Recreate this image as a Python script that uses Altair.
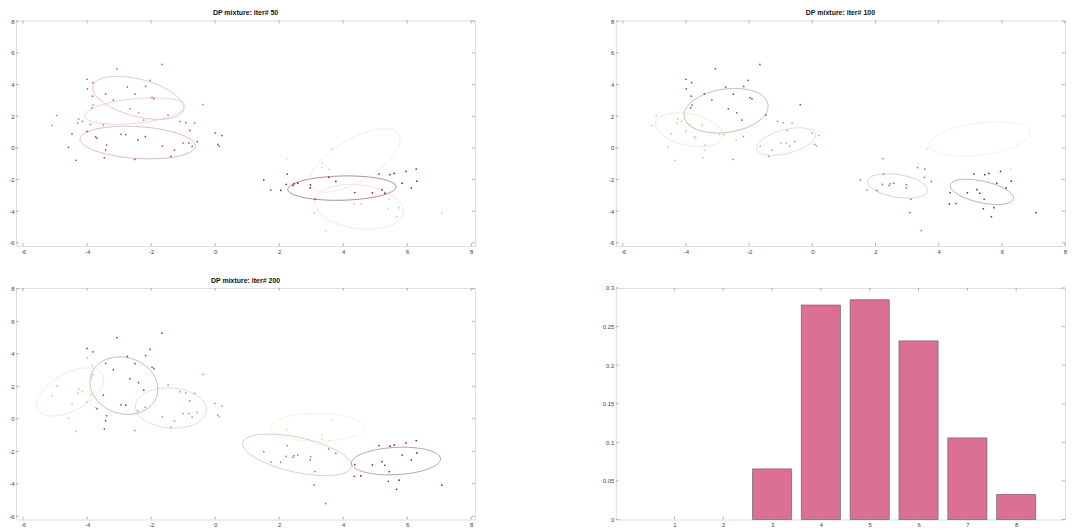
import numpy as np
import pandas as pd
import altair as alt

# ---------------- data ----------------
PX = [-1.66, -3.07, -4.0, -2.03, -3.82, -2.74, -2.17, -3.99, -3.42, -2.5, -3.83, -1.97, -1.91, -3.18,
      -3.81, -0.38, -3.85, -2.66, -2.39, -1.47, -4.94, -4.26, -2.23, -4.14, -1.1, -4.29, -0.92, -0.64,
      -5.09, -3.89, -3.49, -0.79, -4.0, 0.0, -4.47, -2.94, -2.79, 0.21, -2.18, -3.73, -3.69, -2.41,
      -0.56, -1.0, -0.82, 0.08, -3.39, 0.13, -1.65, -0.72, -4.58, -3.42, -1.27, -1.38, -3.46, -2.51, -4.35,
      2.23, 3.35, 3.33, 3.56, 5.96, 6.28, 2.25, 5.12, 5.46, 5.59, 3.55, 1.52, 6.30, 3.77, 2.22, 2.47,
      2.43, 2.58, 2.98, 5.84, 2.97, 6.13, 1.74, 2.05, 5.21, 4.36, 4.91, 5.30, 5.44, 3.12, 4.34, 4.55,
      5.41, 5.75, 7.08, 3.09, 5.67, 3.45, 3.65]
PY = [5.27, 5.0, 4.33, 4.27, 4.12, 3.84, 3.88, 3.73, 3.41, 3.39, 3.27, 3.18, 3.1, 3.02,
      2.71, 2.73, 2.53, 2.47, 2.22, 2.08, 2.04, 1.82, 1.76, 1.67, 1.67, 1.57, 1.59, 1.57,
      1.43, 1.49, 1.45, 1.1, 1.04, 0.94, 0.88, 0.86, 0.84, 0.78, 0.71, 0.69, 0.61, 0.49,
      0.39, 0.31, 0.31, 0.22, 0.18, 0.12, 0.12, 0.1, 0.04, -0.12, -0.14, -0.53, -0.63, -0.73, -0.78,
      -0.67, -0.97, -1.24, -1.34, -1.49, -1.34, -1.65, -1.65, -1.69, -1.61, -1.86, -2.02, -2.1, -2.12, -2.31, -2.27,
      -2.37, -2.23, -2.33, -2.23, -2.53, -2.53, -2.66, -2.68, -2.64, -2.82, -2.84, -2.86, -3.25, -3.25, -3.54, -3.52,
      -3.85, -3.78, -4.09, -4.09, -4.34, -5.22, -0.05]

# Gaussian components (centre, half x-extent, half y-extent, correlation)
E50_CX = [-2.4, -2.5, -2.42, 3.96, 4.36, 4.5]
E50_CY = [3.16, 2.33, 0.34, -2.54, -0.8, -3.72]
E50_SX = [1.42, 1.57, 1.8, 1.69, 1.42, 1.39]
E50_SY = [1.36, 0.84, 1.03, 0.77, 2.0, 1.42]
E50_RHO = [-0.46, 0.36, -0.21, 0.1, 0.66, -0.2]
E50_LINE = ['#d8b0b0', '#e2c6bc', '#cda2a4', '#96566a', '#ece8c8', '#ece0c6']
E50_PT = ['#b85a6a', '#c47c74', '#a44456', '#7a2a3a', '#dcd098', '#dec898']

E100_CX = [-2.73, -3.9, -0.83, 2.7, 5.37, 5.3]
E100_CY = [2.35, 1.15, 0.4, -2.4, -2.78, 0.57]
E100_SX = [1.33, 1.07, 0.94, 0.95, 1.0, 1.59]
E100_SY = [1.41, 1.07, 0.87, 0.77, 0.8, 1.08]
E100_RHO = [0.2, -0.33, 0.46, -0.34, -0.49, 0.33]
E100_LINE = ['#c094a2', '#ecdfc6', '#e2c8c0', '#deb6b6', '#b08492', '#efedcc']
E100_PT = ['#94405e', '#dcc088', '#c49484', '#bc6c7c', '#7a2a40', '#e2dc9c']

E200_CX = [-2.85, -4.53, -1.38, 3.19, 2.56, 5.65]
E200_CY = [2.04, 1.65, 0.66, -0.53, -2.22, -2.6]
E200_SX = [1.06, 1.05, 1.11, 1.46, 1.7, 1.39]
E200_SY = [1.77, 1.48, 1.24, 0.86, 1.28, 0.85]
E200_RHO = [-0.12, 0.53, -0.08, 0.0, -0.52, 0.15]
E200_LINE = ['#c094a2', '#ecdfc6', '#e2c8c0', '#efedcc', '#dab2b2', '#a87484']
E200_PT = ['#94405e', '#dcc088', '#c49484', '#e2dc9c', '#bc6c7c', '#7a2a40']

TITLES = ['DP mixture: iter# 50', 'DP mixture: iter# 100', 'DP mixture: iter# 200']

BAR_K = [1, 2, 3, 4, 5, 6, 7, 8]
BAR_P = [0.0, 0.0, 0.0656, 0.2778, 0.2847, 0.2314, 0.1057, 0.0324]

XTICKS = [-6, -4, -2, 0, 2, 4, 6, 8]
YTICKS = [-6, -4, -2, 0, 2, 4, 6, 8]
BAR_XTICKS = [1, 2, 3, 4, 5, 6, 7, 8]
BAR_YTICKS = [0, 0.05, 0.1, 0.15, 0.2, 0.25, 0.3]

# ---------------- styling ----------------
FONT = 'Liberation Sans'
BOX = '#a0a0a0'
LABEL = '#444444'
W_L, W_R = 460, 450
H_T, H_B = 226, 232


def axis(values, expr="'' + datum.value"):
    return alt.Axis(values=values, ticks=False, domain=False, grid=False, labelFontSize=6,
                    labelColor=LABEL, labelPadding=2, title=None, labelFont=FONT,
                    labelFlush=False, labelOverlap=False, labelExpr=expr)


def tick_layers(xs, ys, xa, ya, xt, yt, w, h):
    xd = pd.DataFrame({'v': xt})
    yd = pd.DataFrame({'v': yt})
    out = []
    for a, b in [(h, h - 3), (0, 3)]:
        out.append(alt.Chart(xd).mark_rule(color=BOX, strokeWidth=0.8).encode(
            x=alt.X('v:Q', scale=xs, axis=xa), y=alt.value(a), y2=alt.value(b)))
    for a, b in [(0, 3), (w, w - 3)]:
        out.append(alt.Chart(yd).mark_rule(color=BOX, strokeWidth=0.8).encode(
            y=alt.Y('v:Q', scale=ys, axis=ya), x=alt.value(a), x2=alt.value(b)))
    return out


def scatter_panel(title, cx, cy, sx, sy, rho, line_cols, pt_cols, w, h, xdom):
    X = np.array(PX)
    Y = np.array(PY)
    d = []
    for i in range(len(cx)):
        dx = (X - cx[i]) / sx[i]
        dy = (Y - cy[i]) / sy[i]
        r = rho[i]
        d.append((dx ** 2 - 2 * r * dx * dy + dy ** 2) / (1 - r ** 2)
                 + 2 * np.log(sx[i] * sy[i] * np.sqrt(1 - r ** 2)))
    lab = np.argmin(np.array(d), axis=0)
    pts = pd.DataFrame({'x': X, 'y': Y, 'col': [pt_cols[k] for k in lab]})

    t = np.linspace(0, 2 * np.pi, 90)
    rows = []
    for i in range(len(cx)):
        ex = cx[i] + sx[i] * np.cos(t)
        ey = cy[i] + sy[i] * (rho[i] * np.cos(t) + np.sqrt(1 - rho[i] ** 2) * np.sin(t))
        for j in range(len(t)):
            rows.append({'x': ex[j], 'y': ey[j], 'eid': i, 'o': j, 'col': line_cols[i]})
    ell = pd.DataFrame(rows)

    xs = alt.Scale(domain=xdom, nice=False, zero=False)
    ys = alt.Scale(domain=[-6.2, 8.05], nice=False, zero=False)
    xa = axis(XTICKS)
    ya = axis(YTICKS)

    e = alt.Chart(ell).mark_line(strokeWidth=0.7).encode(
        x=alt.X('x:Q', scale=xs, axis=xa),
        y=alt.Y('y:Q', scale=ys, axis=ya),
        detail='eid:N', order='o:Q',
        color=alt.Color('col:N', scale=None))
    p = alt.Chart(pts).mark_circle(size=3, opacity=1).encode(
        x=alt.X('x:Q', scale=xs, axis=xa),
        y=alt.Y('y:Q', scale=ys, axis=ya),
        color=alt.Color('col:N', scale=None))
    return alt.layer(e, p, *tick_layers(xs, ys, xa, ya, XTICKS, YTICKS, w, h)).properties(
        width=w, height=h,
        title=alt.TitleParams(title, fontSize=7, font=FONT, fontWeight='bold', color='#111111', offset=2))


p1 = scatter_panel(TITLES[0], E50_CX, E50_CY, E50_SX, E50_SY, E50_RHO, E50_LINE, E50_PT,
                   W_L, H_T, [-6.22, 8.12])
p2 = scatter_panel(TITLES[1], E100_CX, E100_CY, E100_SX, E100_SY, E100_RHO, E100_LINE, E100_PT,
                   W_R, H_T, [-6.22, 8.0])
p3 = scatter_panel(TITLES[2], E200_CX, E200_CY, E200_SX, E200_SY, E200_RHO, E200_LINE, E200_PT,
                   W_L, H_B, [-6.22, 8.12])

bar_df = pd.DataFrame({'k': BAR_K, 'p': BAR_P})
bxs = alt.Scale(domain=[-0.2, 9.0], nice=False, zero=False)
bys = alt.Scale(domain=[0, 0.3], nice=False)
bxa = axis(BAR_XTICKS)
bya = axis(BAR_YTICKS, "format(datum.value, '~g')")
bars = alt.Chart(bar_df).transform_filter('datum.p > 0').transform_calculate(
    k0='datum.k - 0.4', k1='datum.k + 0.4'
).mark_bar(color='#DB7093', stroke='#6e6e6e', strokeWidth=0.8).encode(
    x=alt.X('k0:Q', scale=bxs, axis=bxa),
    x2='k1:Q',
    y=alt.Y('p:Q', scale=bys, axis=bya, stack=None),
    y2=alt.datum(0))
p4 = alt.layer(bars, *tick_layers(bxs, bys, bxa, bya, BAR_XTICKS, BAR_YTICKS, W_R, H_B)).properties(
    width=W_R, height=H_B)

chart = alt.concat(p1, p2, p3, p4, columns=2, spacing={'row': 42, 'column': 141},
                   bounds='flush', padding=0).configure_view(
    stroke=BOX, strokeWidth=1).configure(background='white')

chart.save('out.html', embed_options={'renderer': 'svg', 'actions': False})
